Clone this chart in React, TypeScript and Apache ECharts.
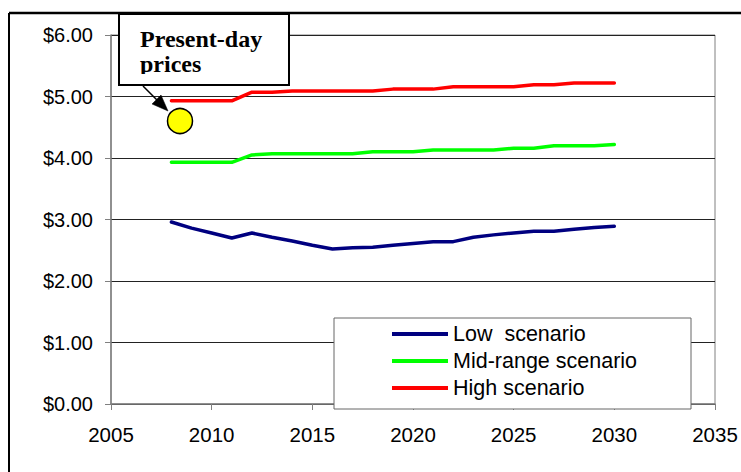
import React, { useEffect, useRef } from "react";
import * as echarts from "echarts";

const years = [2008, 2009, 2010, 2011, 2012, 2013, 2014, 2015, 2016, 2017, 2018, 2019, 2020, 2021, 2022, 2023, 2024, 2025, 2026, 2027, 2028, 2029, 2030];
const lowScenario = [2.96, 2.86, 2.78, 2.70, 2.78, 2.71, 2.65, 2.58, 2.52, 2.54, 2.55, 2.58, 2.61, 2.64, 2.64, 2.71, 2.75, 2.78, 2.81, 2.81, 2.84, 2.87, 2.89];
const midScenario = [3.93, 3.93, 3.93, 3.93, 4.05, 4.07, 4.07, 4.07, 4.07, 4.07, 4.10, 4.10, 4.10, 4.13, 4.13, 4.13, 4.13, 4.16, 4.16, 4.20, 4.20, 4.20, 4.22];
const highScenario = [4.93, 4.93, 4.93, 4.93, 5.07, 5.07, 5.09, 5.09, 5.09, 5.09, 5.09, 5.12, 5.12, 5.12, 5.16, 5.16, 5.16, 5.16, 5.19, 5.19, 5.22, 5.22, 5.22];
const seriesNames = ["Low  scenario", "Mid-range scenario", "High scenario"];
const calloutLines = ["Present-day", "prices"];

const pairs = (vals: number[]) => years.map((y, i) => [y, vals[i]]);

export default function App() {
  const ref = useRef<HTMLDivElement>(null);
  useEffect(() => {
    if (!ref.current) return;
    const chart = echarts.init(ref.current, null, { renderer: "svg" });
    const font = "Liberation Sans, Arial, sans-serif";
    const colors = ["#000080", "#00FF00", "#FF0000"];
    const data = [lowScenario, midScenario, highScenario];
    chart.setOption({
      animation: false,
      backgroundColor: "#ffffff",
      grid: { left: 111, right: 26, top: 35, bottom: 68, show: true, borderColor: "#808080", borderWidth: 1 },
      xAxis: {
        type: "value",
        min: 2005,
        max: 2035,
        interval: 5,
        axisLine: { show: true, lineStyle: { color: "#808080", width: 1.5 } },
        axisTick: { show: true, inside: false, length: 6, lineStyle: { color: "#808080" } },
        splitLine: { show: false },
        axisLabel: { color: "#000", fontFamily: font, fontSize: 20.5, margin: 20, formatter: (v: number) => String(v) },
      },
      yAxis: {
        type: "value",
        min: 0,
        max: 6,
        interval: 1,
        axisLine: { show: true, lineStyle: { color: "#808080", width: 1.5 } },
        axisTick: { show: true, inside: false, length: 6, lineStyle: { color: "#808080" } },
        splitLine: { show: true, lineStyle: { color: "#222", width: 1 } },
        axisLabel: { color: "#000", fontFamily: font, fontSize: 20, margin: 18, formatter: (v: number) => "$" + v.toFixed(2) },
      },
      legend: {
        orient: "vertical",
        left: 392,
        top: 323,
        padding: 0,
        itemGap: 5,
        itemWidth: 56,
        itemHeight: 4,
        icon: "rect",
        z: 20,
        textStyle: { color: "#000", fontFamily: font, fontSize: 21.5, lineHeight: 22 },
        data: seriesNames,
      },
      series: seriesNames.map((name, i) => ({
        name,
        type: "line",
        data: pairs(data[i]),
        showSymbol: false,
        symbol: "none",
        lineStyle: { color: colors[i], width: 3.5, cap: "round", join: "round" },
        itemStyle: { color: colors[i] },
      })),
      graphic: [
        { type: "line", shape: { x1: 9, y1: 13, x2: 741, y2: 13 }, style: { stroke: "#000", lineWidth: 2.5 }, z: 5 },
        { type: "line", shape: { x1: 9, y1: 13, x2: 9, y2: 472 }, style: { stroke: "#000", lineWidth: 2 }, z: 5 },
        { type: "rect", shape: { x: 334, y: 318, width: 357, height: 91 }, style: { fill: "#fff", stroke: "#666", lineWidth: 1 }, z: 10 },
        { type: "rect", shape: { x: 119, y: 14, width: 170, height: 71 }, style: { fill: "#fff", stroke: "none" }, z: 10 },
        { type: "text", x: 140, y: 39, style: { text: calloutLines[0], font: "bold 24px 'Liberation Serif', 'Times New Roman', serif", fill: "#000", verticalAlign: "middle" }, z: 11 },
        { type: "text", x: 140, y: 64, style: { text: calloutLines[1], font: "bold 24px 'Liberation Serif', 'Times New Roman', serif", fill: "#000", verticalAlign: "middle" }, z: 11 },
        { type: "rect", shape: { x: 121, y: 74, width: 166, height: 10 }, style: { fill: "#fff", stroke: "none" }, z: 12 },
        { type: "rect", shape: { x: 119, y: 14, width: 170, height: 71 }, style: { fill: "none", stroke: "#000", lineWidth: 2 }, z: 13 },
        { type: "line", shape: { x1: 143, y1: 86, x2: 158, y2: 101 }, style: { stroke: "#000", lineWidth: 1.5 }, z: 13 },
        { type: "polygon", shape: { points: [[168, 111], [152, 104], [161, 95]] }, style: { fill: "#000", stroke: "#000", lineWidth: 0.5 }, z: 13 },
        { type: "circle", shape: { cx: 180, cy: 121, r: 12.5 }, style: { fill: "#FFFF00", stroke: "#000", lineWidth: 1.5 }, z: 13 },
      ],
    });
    return () => chart.dispose();
  }, []);
  return <div ref={ref} style={{ position: "fixed", left: 0, top: 0, width: 741, height: 472 }} />;
}
